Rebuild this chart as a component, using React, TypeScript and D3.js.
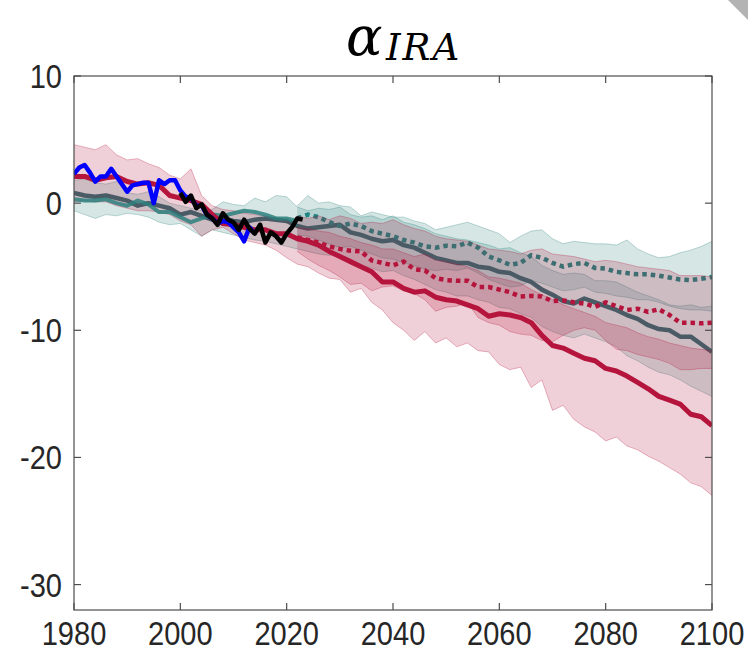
import * as d3 from "d3";

const width = 748;
const height = 659;
const marginLeft = 74;
const marginRight = 36;
const marginTop = 76;
const marginBottom = 49;

// tick labels
const xTicks = [1980, 2000, 2020, 2040, 2060, 2080, 2100];
const yTicks = [10, 0, -10, -20, -30];

// observations (annual)
const blueObs = [2.3, 2.8, 3.0, 2.4, 1.7, 2.1, 2.1, 2.7, 2.1, 1.5,
  0.9, 1.4, 1.5, 1.6, 1.6, 0.0, 1.8, 1.5, 1.8, 1.8,
  1.0, 0.5, 0.4, -0.2, -0.2, -0.9, -1.2, -1.6, -1.4, -1.5,
  -1.9, -2.3, -3.0, -1.9, -2.4];
const blackObs = [0.8, 0.1, 0.6, -0.4, -0.1, -0.9, -1.2, -1.7, -0.8, -1.3,
  -1.5, -2.1, -1.3, -2.0, -2.4, -1.7, -3.1, -2.3, -2.6, -3.1,
  -2.4, -1.9, -1.2, -1.3];

// model means, every 2 years
const redSolid = [2.1, 2.1, 1.8, 2.0, 2.1, 1.7, 1.5, 1.6, 1.4, 0.6,
  0.4, 0.2, -0.1, -0.9, -1.6, -1.7, -1.9, -2.1, -2.1, -2.4,
  -2.4, -2.8, -3.0, -3.3, -3.8, -4.2, -4.6, -5.0, -5.4, -6.2,
  -6.2, -6.7, -7.0, -6.9, -7.4, -7.6, -7.7, -8.0, -8.3, -8.9,
  -8.7, -8.8, -9.0, -9.4, -10.4, -11.2, -11.4, -11.8, -12.2, -12.4,
  -13.0, -13.2, -13.6, -14.1, -14.6, -15.2, -15.5, -15.8, -16.6, -16.8,
  -17.5];
const tealSolid = [0.8, 0.6, 0.5, 0.6, 0.4, 0.2, -0.2, 0.0, -0.2, -0.4,
  -0.9, -0.7, -1.0, -1.3, -1.2, -1.4, -1.5, -1.3, -1.2, -1.3,
  -1.4, -1.8, -2.0, -1.9, -1.8, -1.7, -2.3, -2.5, -2.8, -3.0,
  -2.9, -3.3, -3.5, -3.9, -4.3, -4.5, -4.7, -4.7, -5.0, -5.1,
  -5.4, -5.5, -5.9, -6.2, -6.8, -7.2, -7.7, -7.9, -7.5, -7.8,
  -8.1, -8.4, -8.8, -9.1, -9.6, -9.9, -10.0, -10.5, -10.5, -11.1,
  -11.7];
const tealHist = [0.3, 0.2, 0.2, 0.3, 0.0, -0.2, 0.2, -0.1, -0.7, -0.7,
  -1.1, -1.5, -1.2, -0.9, -1.0, -0.8, -0.6, -0.7, -0.9, -1.2,
  -1.2, -1.4];
const redDot = [-2.7, -2.9, -3.1, -3.4, -3.6, -3.75, -3.8, -4.5, -4.7, -4.9,
  -4.6, -5.2, -5.3, -5.9, -6.05, -6.1, -6.1, -6.6, -6.6, -6.8,
  -7.0, -7.35, -7.3, -7.35, -7.7, -7.65, -7.8, -7.9, -8.15, -7.8,
  -8.1, -8.4, -8.3, -8.55, -8.35, -8.8, -9.4, -9.4, -9.45, -9.4];
const tealDot = [-1.2, -0.9, -1.1, -1.5, -1.8, -1.6, -1.8, -2.2, -2.4, -2.6,
  -2.9, -3.1, -3.4, -3.5, -3.35, -3.4, -3.1, -3.5, -4.2, -4.5,
  -4.85, -4.7, -4.1, -4.3, -4.7, -5.0, -4.8, -4.7, -5.1, -5.15,
  -5.4, -5.5, -5.6, -5.6, -5.7, -5.85, -6.0, -6.05, -5.95, -5.8];

// spread bands, every 2 years
const redSolidUpper = [4.6, 4.4, 4.2, 4.6, 3.8, 3.4, 3.5, 3.1, 2.8, 2.2,
  1.9, 2.7, 0.6, -0.2, -0.5, -0.6, -0.8, -0.9, -1.0, -1.2,
  -1.4, -1.9, -2.0, -2.2, -2.3, -2.6, -2.8, -3.1, -3.3, -3.6,
  -3.6, -3.9, -4.2, -4.0, -4.5, -4.6, -4.8, -5.0, -5.3, -5.8,
  -5.9, -6.1, -6.3, -6.8, -7.2, -7.6, -8.0, -8.3, -8.6, -8.9,
  -9.4, -9.6, -9.8, -10.2, -10.5, -10.7, -11.0, -11.2, -11.4, -11.5,
  -11.6];
const redSolidLower = [0.1, 0.2, 0.1, 0.1, -0.2, -0.4, -0.6, -0.6, -0.7, -0.9,
  -1.4, -1.7, -2.6, -2.1, -1.9, -2.4, -2.9, -3.1, -3.3, -3.7,
  -4.3, -4.8, -5.0, -5.5, -5.9, -6.0, -7.0, -6.7, -7.8, -8.4,
  -9.4, -10.0, -10.8, -10.1, -11.0, -10.6, -11.3, -11.0, -11.6, -11.7,
  -12.7, -13.1, -12.9, -14.5, -13.9, -16.3, -15.9, -17.0, -17.6, -18.0,
  -18.7, -18.4, -19.1, -19.4, -19.9, -20.3, -20.8, -21.3, -22.0, -22.3,
  -23.0];
const tealSolidUpper = [1.8, 1.9, 1.6, 1.5, 1.7, 0.8, 0.7, 0.9, 0.5, 0.0,
  -0.2, -0.4, -0.6, -0.5, 0.1, -0.1, -0.2, 0.4, 0.1, 0.6,
  0.5, -0.3, -0.6, -0.4, -0.5, -0.3, -0.9, -1.1, -1.0, -1.3,
  -1.0, -1.5, -1.7, -2.0, -2.4, -2.6, -2.8, -2.9, -3.1, -3.3,
  -3.6, -3.5, -3.9, -4.2, -4.9, -5.3, -5.6, -5.5, -5.6, -6.1,
  -6.1, -6.2, -6.6, -7.0, -7.3, -7.6, -8.0, -8.1, -8.0, -8.2,
  -8.1];
const tealSolidLower = [-0.6, -0.9, -1.2, -0.9, -1.0, -0.8, -0.9, -1.1, -1.5, -1.7,
  -1.6, -2.1, -2.6, -2.1, -2.3, -2.5, -2.7, -2.9, -3.0, -3.2,
  -3.4, -3.6, -3.8, -4.0, -4.1, -4.0, -4.6, -4.9, -5.1, -5.4,
  -5.3, -5.7, -6.0, -6.4, -6.8, -7.0, -7.3, -7.3, -7.6, -7.8,
  -8.2, -8.3, -8.7, -9.0, -9.7, -10.1, -10.4, -10.6, -10.3, -10.6,
  -10.9, -11.3, -12.0, -12.4, -12.9, -13.3, -13.5, -13.9, -14.4, -14.8,
  -15.2];
const tealDotUpper = [-0.2, 0.6, 0.0, 0.1, -0.2, -0.3, -1.0, -0.7, -0.9, -1.1,
  -1.1, -1.4, -1.6, -2.1, -1.9, -1.7, -1.5, -1.8, -2.1, -2.4,
  -3.1, -2.6, -2.2, -2.1, -2.8, -3.2, -3.0, -3.1, -3.2, -3.2,
  -3.3, -2.9, -3.6, -4.0, -4.3, -4.2, -3.9, -3.7, -3.4, -3.0];
const tealDotLower = [-2.5, -2.6, -2.9, -3.2, -3.5, -3.4, -3.7, -4.0, -4.3, -4.4,
  -4.7, -4.9, -5.2, -5.3, -5.2, -5.3, -5.1, -5.5, -6.0, -6.3,
  -6.6, -6.5, -6.1, -6.3, -6.6, -6.9, -6.8, -6.6, -7.0, -7.1,
  -7.3, -7.4, -7.6, -7.6, -7.8, -8.1, -8.3, -8.4, -8.4, -8.5];
const redDotUpper = [-1.0, -1.2, -1.0, -1.3, -1.0, -1.2, -1.6, -1.5, -1.6, -1.3,
  -1.7, -2.0, -2.2, -2.6, -2.8, -2.9, -3.0, -3.3, -3.6, -3.7,
  -3.8, -4.0, -3.7, -3.6, -4.0, -4.1, -4.2, -4.4, -4.6, -4.5,
  -4.6, -4.8, -5.0, -5.1, -5.2, -5.3, -5.7, -5.7, -5.7, -5.8];
const redDotLower = [-3.8, -4.4, -4.9, -5.3, -5.8, -6.4, -6.3, -6.9, -6.6, -6.5,
  -6.9, -7.1, -7.6, -8.5, -8.2, -8.1, -7.8, -9.0, -9.4, -9.6,
  -10.1, -10.3, -10.4, -10.8, -10.9, -10.4, -10.0, -9.8, -10.0, -10.8,
  -11.5, -11.6, -11.9, -12.1, -12.3, -12.6, -13.1, -13.1, -13.0, -13.0];

const RED = "#b5153c";
const TEAL = "#2b807c";
const TEAL_DOT = "#1f8580";
const TEAL_DARK = "#306d70";
const AXIS = "#4d4d4d";
const TEXT = "#262626";

// pair a series with its years
const years = (start: number, step: number, vals: number[]) => vals.map((v, i) => [start + i * step, v] as [number, number]);
const band = (start: number, up: number[], lo: number[]) => up.map((u, i) => ({ t: start + i * 2, u, l: lo[i] }));

export default function App() {
  const x = d3.scaleLinear().domain([1980, 2100]).range([marginLeft, width - marginRight]);
  const y = d3.scaleLinear().domain([-32, 10]).range([height - marginBottom, marginTop]);

  const line = d3.line<[number, number]>().x(d => x(d[0])).y(d => y(d[1]));
  const area = d3.area<{ t: number; u: number; l: number }>().x(d => x(d.t)).y0(d => y(d.l)).y1(d => y(d.u));

  const bandPath = (start: number, up: number[], lo: number[], color: string, key: string) => (
    <g key={key}>
      <path d={area(band(start, up, lo)) ?? ""} fill={color} fillOpacity={0.2} />
      <path d={line(years(start, 2, up)) ?? ""} fill="none" stroke={color} strokeOpacity={0.3} strokeWidth={1} />
      <path d={line(years(start, 2, lo)) ?? ""} fill="none" stroke={color} strokeOpacity={0.3} strokeWidth={1} />
    </g>
  );

  const x0 = marginLeft, x1 = width - marginRight, y0 = marginTop, y1 = height - marginBottom;

  return (
    <svg width={width} height={height} style={{ position: "absolute", left: 0, top: 0, background: "#fff" }}>
      <rect width={width} height={height} fill="#fff" />
      <polygon points="728,0 748,0 748,20" fill="#b3b3b3" />

      {/* title */}
      <text x={346} y={55} fontFamily="DejaVu Serif" fontStyle="italic" fontSize={54} fill="#000">α</text>
      <text x={386} y={60} fontFamily="DejaVu Serif" fontStyle="italic" fontSize={37} letterSpacing={2} fill="#000">IRA</text>

      <defs>
        <clipPath id="plot"><rect x={x0} y={y0} width={x1 - x0} height={y1 - y0} /></clipPath>
      </defs>

      <g clipPath="url(#plot)">
        {bandPath(1980, tealSolidUpper, tealSolidLower, TEAL, "tsb")}
        {bandPath(2022, tealDotUpper, tealDotLower, TEAL, "tdb")}
        <path d={line(years(1980, 2, tealSolid)) ?? ""} fill="none" stroke={TEAL_DARK} strokeWidth={4.5} strokeLinejoin="round" />
        <path d={line(years(2022, 2, tealDot)) ?? ""} fill="none" stroke={TEAL_DOT} strokeWidth={4.5} strokeDasharray="4.5 4" />
        {bandPath(1980, redSolidUpper, redSolidLower, RED, "rsb")}
        {bandPath(2022, redDotUpper, redDotLower, RED, "rdb")}
        <path d={line(years(1980, 2, tealHist)) ?? ""} fill="none" stroke={TEAL} strokeOpacity={0.85} strokeWidth={4} strokeLinejoin="round" />
        <path d={line(years(1980, 2, redSolid)) ?? ""} fill="none" stroke={RED} strokeWidth={5} strokeLinejoin="round" />
        <path d={line(years(2022, 2, redDot)) ?? ""} fill="none" stroke={RED} strokeWidth={4.5} strokeDasharray="4.5 4" />
        <path d={line(years(1980, 1, blueObs)) ?? ""} fill="none" stroke="#0000ff" strokeWidth={4.5} strokeLinejoin="round" />
        <path d={line(years(2000, 1, blackObs)) ?? ""} fill="none" stroke="#000" strokeWidth={4.5} strokeLinejoin="round" />
      </g>

      {/* axes box with inward ticks */}
      <rect x={x0} y={y0} width={x1 - x0} height={y1 - y0} fill="none" stroke={AXIS} strokeWidth={1.2} />
      {xTicks.map(t => (
        <g key={"xt" + t}>
          <line x1={x(t)} x2={x(t)} y1={y1} y2={y1 - 7} stroke={AXIS} strokeWidth={1.2} />
          <line x1={x(t)} x2={x(t)} y1={y0} y2={y0 + 7} stroke={AXIS} strokeWidth={1.2} />
          <g transform={`translate(${x(t)},${645}) scale(0.88,1)`}>
            <text textAnchor="middle" fontFamily="Liberation Sans, Arial, sans-serif" fontSize={33} fill={TEXT}>{t}</text>
          </g>
        </g>
      ))}
      {yTicks.map(t => (
        <g key={"yt" + t}>
          <line x1={x0} x2={x0 + 7} y1={y(t)} y2={y(t)} stroke={AXIS} strokeWidth={1.2} />
          <line x1={x1} x2={x1 - 7} y1={y(t)} y2={y(t)} stroke={AXIS} strokeWidth={1.2} />
          <g transform={`translate(${62},${y(t) + 12}) scale(0.88,1)`}>
            <text textAnchor="end" fontFamily="Liberation Sans, Arial, sans-serif" fontSize={33} fill={TEXT}>{t}</text>
          </g>
        </g>
      ))}
    </svg>
  );
}
